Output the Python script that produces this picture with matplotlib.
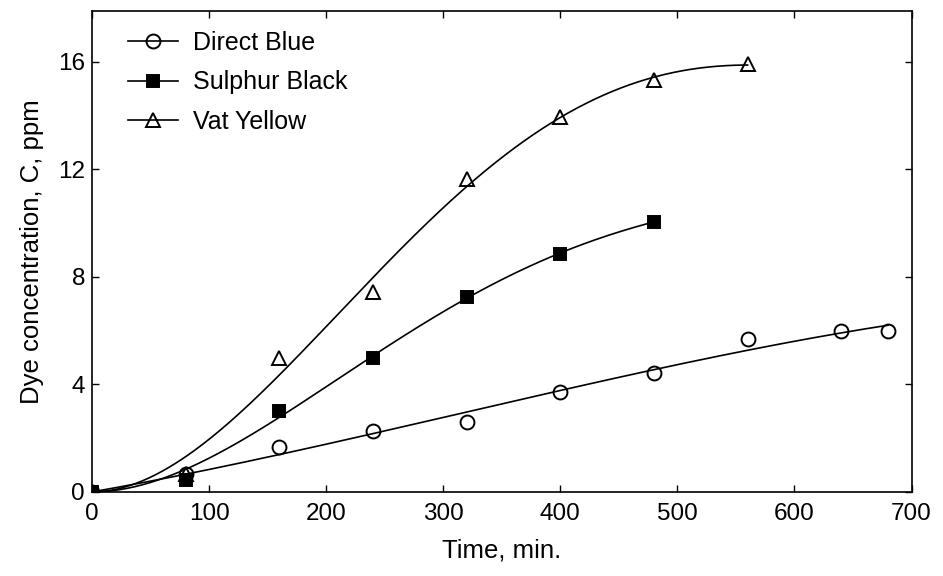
import numpy as np
import matplotlib
matplotlib.use("Agg")
import matplotlib.pyplot as plt

plt.rcParams['font.family'] = ['Liberation Sans', 'DejaVu Sans']

# data
t_blue = np.array([0, 80, 160, 240, 320, 400, 480, 560, 640, 680])
c_blue = np.array([0, 0.65, 1.68, 2.28, 2.59, 3.70, 4.41, 5.70, 5.99, 6.00])

t_black = np.array([0, 80, 160, 240, 320, 400, 480])
c_black = np.array([0, 0.43, 3.00, 5.00, 7.24, 8.86, 10.06])

t_yellow = np.array([0, 80, 160, 240, 320, 400, 480, 560])
c_yellow = np.array([0, 0.65, 4.97, 7.44, 11.66, 13.94, 15.34, 15.92])

xticks = [0, 100, 200, 300, 400, 500, 600, 700]
yticks = [0, 4, 8, 12, 16]


# least-squares curve through the origin, c = sum a_k t^k for k in powers
def fit_curve(t, c, powers):
    s = t.max()
    A = np.column_stack([(t / s) ** k for k in powers])
    a, *_ = np.linalg.lstsq(A, c, rcond=None)
    tt = np.linspace(0, s, 300)
    B = np.column_stack([(tt / s) ** k for k in powers])
    return tt, B @ a


fig = plt.figure(figsize=(9.43, 5.76), dpi=100)
ax = fig.add_axes([0.0976, 0.146, 0.869, 0.835])

series = [
    (t_blue, c_blue, 'o', 'none', 'Direct Blue', 10, (1, 2, 3)),
    (t_black, c_black, 's', 'black', 'Sulphur Black', 8.5, (2, 3, 4)),
    (t_yellow, c_yellow, '^', 'none', 'Vat Yellow', 9.5, (2, 3, 4)),
]
for t, c, m, fc, lab, ms, pw in series:
    tt, cc = fit_curve(t, c, pw)
    ax.plot(tt, cc, color='black', lw=1.2)
    ax.plot(t, c, ls='none', marker=m, mfc=fc, mec='black', mew=1.4, ms=ms)
    # legend handle: line with marker
    ax.plot([], [], color='black', lw=1.2, marker=m, mfc=fc, mec='black',
            mew=1.4, ms=ms, label=lab)

ax.set_xlim(0, 700)
ax.set_ylim(0, 17.9)
ax.set_xticks(xticks)
ax.set_yticks(yticks)
ax.tick_params(direction='in', top=True, right=True, length=5, width=1,
               labelsize=17.5)
ax.tick_params(axis='x', pad=8)
ax.tick_params(axis='y', pad=5)
for s in ax.spines.values():
    s.set_linewidth(1.2)

ax.set_xlabel('Time, min.', fontsize=18.5, labelpad=10)
ax.set_ylabel('Dye concentration, C, ppm', fontsize=18.5, labelpad=10)

ax.legend(loc='upper left', frameon=False, fontsize=18, handlelength=2.0,
          handletextpad=0.6, labelspacing=0.62, borderaxespad=0.4,
          bbox_to_anchor=(0.02, 1.0))

fig.savefig('out.png', dpi=100)
